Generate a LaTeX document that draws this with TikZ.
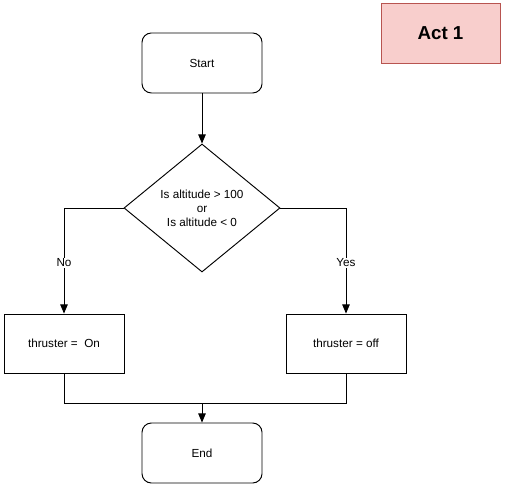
\documentclass[tikz,border=0pt]{standalone}
\usepackage{fontspec}
\setmainfont{Liberation Sans}
\usetikzlibrary{arrows,shapes.geometric}
\definecolor{actfill}{HTML}{F8CECC}
\definecolor{actline}{HTML}{B85450}

\begin{document}
\begin{tikzpicture}[>=triangle 45,x=0.03cm,y=-0.03cm]
			\tikzstyle{every node} = [font=\fontsize{10}{12}\selectfont,draw=black,thick];
			\tikzstyle{term} = [rounded corners=8pt,minimum width=3.6cm,minimum height=1.8cm];
			\tikzstyle{proc} = [minimum width=3.6cm,minimum height=1.77cm];
			\tikzstyle{lbl} = [draw=none,fill=white,inner sep=1pt];
			\useasboundingbox (0,0) rectangle (505,487);
			\node[term] (start) at (202, 63) {Start};
			\node[diamond,minimum width=4.68cm,minimum height=3.84cm,inner sep=0pt,align=center] (check) at (202, 208) {Is altitude > 100\\or\\Is altitude < 0};
			\node[proc] (on) at (64, 343.5) {thruster =\ \ On};
			\node[proc] (off) at (346, 343.5) {thruster = off};
			\node[term] (end) at (202, 453) {End};
			\node[minimum width=3.57cm,minimum height=1.8cm,fill=actfill,draw=actline,font=\fontsize{16}{19}\selectfont\bfseries] (act) at (440.5, 33) {Act 1};
			\coordinate (join) at (202, 403);
			\draw[->,thick] (start) -- (check);
			\draw[->,thick] (check.west) -| (on.north) node[lbl,pos=0.76] {No};
			\draw[->,thick] (check.east) -| (off.north) node[lbl,pos=0.76] {Yes};
			\draw[thick] (on.south) |- (join);
			\draw[thick] (off.south) |- (join);
			\draw[->,thick] (join) -- (end);
		\end{tikzpicture}
\end{document}
